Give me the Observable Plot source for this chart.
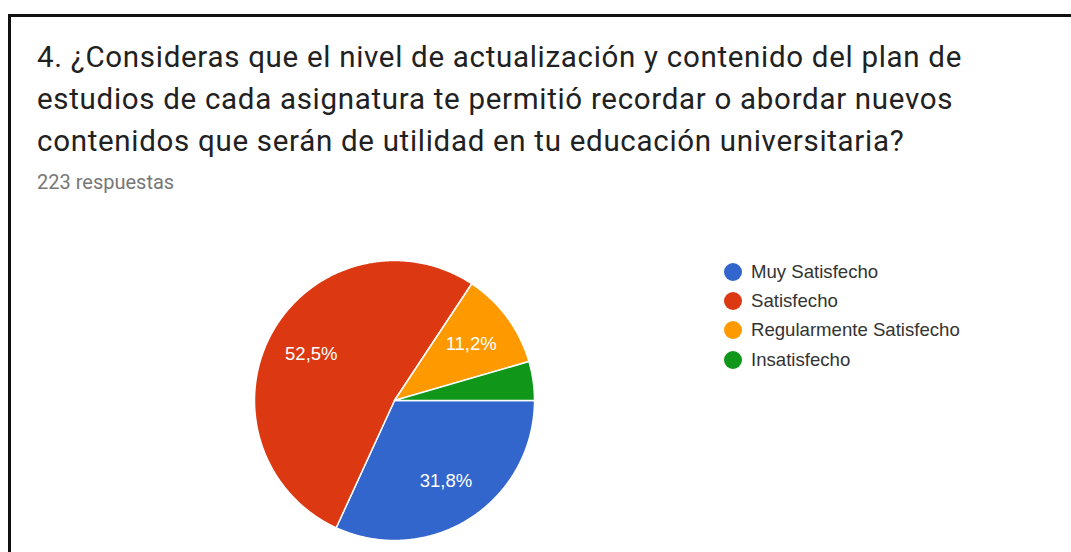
<!DOCTYPE html>
<html>
<head>
<meta charset="utf-8">
<script src="https://cdn.jsdelivr.net/npm/d3@7"></script>
<script src="https://cdn.jsdelivr.net/npm/@observablehq/plot@0.6"></script>
<style>
  html, body { margin: 0; padding: 0; background: #fff; }
  body { width: 1071px; height: 552px; position: relative; overflow: hidden; }
  #frame { position: absolute; left: 8px; top: 14px; width: 1100px; height: 600px;
           border-left: 3px solid #111; border-top: 3px solid #111; }
  #title { position: absolute; left: 37px; top: 36px; font-family: Roboto, sans-serif;
           font-size: 29.5px; letter-spacing: 0.7px; line-height: 42px; color: #212121; white-space: nowrap; }
  #subtitle { position: absolute; left: 37px; top: 170px; font-family: Roboto, sans-serif;
              font-size: 20px; color: #777; }
  #chart { position: absolute; left: 0; top: 200px; }
  #legend { position: absolute; left: 724px; top: 257px; font-family: Arial, "Liberation Sans", sans-serif;
            font-size: 18.6px; color: #333; }
  .item { height: 29.3px; display: flex; align-items: center; }
  .sw { width: 18px; height: 18px; border-radius: 50%; margin-right: 9px; flex: none; }
</style>
</head>
<body>
<div id="frame"></div>
<div id="title">4. ¿Consideras que el nivel de actualización y contenido del plan de<br>estudios de cada asignatura te permitió recordar o abordar nuevos<br>contenidos que serán de utilidad en tu educación universitaria?</div>
<div id="subtitle">223 respuestas</div>
<div id="chart"></div>
<div id="legend"></div>
<script>
const categories = ["Muy Satisfecho", "Satisfecho", "Regularmente Satisfecho", "Insatisfecho"];
const counts = [71, 117, 25, 10];
const percentLabels = ["31,8%", "52,5%", "11,2%", "4,5%"];
const colors = ["#3366cc", "#dc3912", "#ff9900", "#109618"];
const total = 223;

const data = categories.map((c, i) => ({cat: c, value: counts[i], label: percentLabels[i], pct: counts[i] / total}));

const pie = d3.pie().value(d => d.value).sort(null)
  .startAngle(Math.PI / 2).endAngle(Math.PI / 2 + 2 * Math.PI);
const arcs = pie(data);

// slice outlines derived from the pie angles
const points = [];
for (const a of arcs) {
  points.push({cat: a.data.cat, x: 0, y: 0});
  const n = Math.max(2, Math.ceil((a.endAngle - a.startAngle) / 0.01));
  for (let k = 0; k <= n; k++) {
    const t = a.startAngle + (a.endAngle - a.startAngle) * k / n;
    points.push({cat: a.data.cat, x: Math.sin(t), y: Math.cos(t)});
  }
}
const labelR = 0.68;
const labels = arcs.filter(a => a.data.pct >= 0.05).map(a => {
  const m = (a.startAngle + a.endAngle) / 2;
  return {label: a.data.label, x: labelR * Math.sin(m), y: labelR * Math.cos(m)};
});

const plot = Plot.plot({
  width: 1071,
  height: 352,
  margin: 0,
  x: {domain: [-1, 1], range: [254, 534], axis: null},
  y: {domain: [-1, 1], range: [340, 60], axis: null},
  color: {domain: categories, range: colors},
  style: {background: "transparent", overflow: "visible"},
  marks: [
    Plot.line(points, {x: "x", y: "y", z: "cat", fill: "cat", stroke: "white", strokeWidth: 1.5, curve: "linear-closed"}),
    Plot.text(labels, {x: "x", y: "y", text: "label", fill: "white", fontSize: 18.5,
      fontFamily: "Arial, 'Liberation Sans', sans-serif"})
  ]
});
document.getElementById("chart").appendChild(plot);

const legend = document.getElementById("legend");
categories.forEach((c, i) => {
  const item = document.createElement("div");
  item.className = "item";
  const sw = document.createElement("span");
  sw.className = "sw";
  sw.style.background = colors[i];
  const tx = document.createElement("span");
  tx.textContent = c;
  item.appendChild(sw);
  item.appendChild(tx);
  legend.appendChild(item);
});
</script>
</body>
</html>
